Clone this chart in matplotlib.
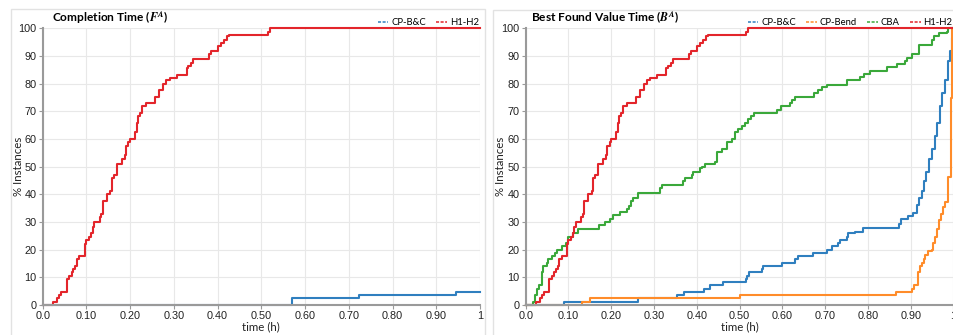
import matplotlib
matplotlib.use("Agg")
import matplotlib.pyplot as plt
from matplotlib.patches import Rectangle
from matplotlib.lines import Line2D

plt.rcParams['font.family'] = ['Liberation Sans', 'DejaVu Sans']
plt.rcParams['mathtext.fontset'] = 'stix'

UI_FONT = 'Lato'

# step breakpoints: time (h) and cumulative % of instances
h12_t = [0, 0.023, 0.033, 0.038, 0.042, 0.055, 0.061, 0.066, 0.070, 0.075, 0.079, 0.084,
         0.097, 0.100, 0.106, 0.110, 0.114, 0.118, 0.130, 0.133, 0.137, 0.146, 0.154, 0.158,
         0.163, 0.169, 0.181, 0.188, 0.190, 0.196, 0.200, 0.211, 0.215, 0.219, 0.222, 0.227,
         0.236, 0.257, 0.267, 0.276, 0.283, 0.291, 0.308, 0.329, 0.333, 0.340, 0.344, 0.381,
         0.386, 0.400, 0.407, 0.415, 0.421, 0.427, 0.516, 0.520, 1.0]
h12_y = [0, 1.2, 2.4, 3.5, 4.7, 9.4, 10.6, 11.8, 12.9, 14.1, 16.5, 17.6,
         21.9, 23.5, 24.7, 25.9, 28.2, 30.0, 31.8, 32.9, 37.6, 40.0, 41.2, 45.9,
         47.1, 51.0, 52.9, 54.1, 57.6, 58.8, 60.0, 62.4, 65.9, 68.2, 69.4, 71.8,
         72.9, 75.3, 77.6, 80.0, 81.2, 82.0, 83.0, 85.5, 86.5, 87.6, 88.8, 90.6,
         91.8, 93.5, 94.7, 95.9, 97.1, 97.6, 98.8, 100, 100]

# completion time of CP-B&C
cpbc_done_t = [0, 0.569, 0.724, 0.945, 1.0]
cpbc_done_y = [0, 2.4, 3.5, 4.7, 4.7]

# best found value time
cpbc_t = [0, 0.090, 0.262, 0.354, 0.370, 0.417, 0.431, 0.462, 0.514, 0.517, 0.521, 0.552,
          0.555, 0.598, 0.630, 0.637, 0.672, 0.704, 0.715, 0.731, 0.735, 0.750, 0.754, 0.770,
          0.789, 0.873, 0.877, 0.894, 0.906, 0.915, 0.920, 0.926, 0.930, 0.936, 0.943, 0.949,
          0.957, 0.962, 0.968, 0.972, 0.980, 0.988, 0.992, 0.996, 1.0]
cpbc_y = [0, 1.2, 2.4, 3.5, 4.7, 5.9, 7.1, 8.2, 9.4, 10.6, 11.8, 12.9,
          14.1, 15.3, 16.5, 17.6, 18.8, 20.0, 21.2, 22.4, 23.5, 24.7, 25.9, 26.5,
          27.8, 29.4, 31.0, 32.2, 33.1, 36.1, 38.8, 41.2, 44.7, 48.2, 52.9, 56.5,
          61.2, 65.9, 71.8, 76.5, 81.2, 88.2, 91.8, 96.5, 96.5]

bend_t = [0, 0.131, 0.150, 0.501, 0.866, 0.902, 0.908, 0.918, 0.922, 0.926, 0.930, 0.933,
          0.941, 0.949, 0.953, 0.957, 0.961, 0.967, 0.971, 0.976, 0.981, 0.986, 0.988,
          0.993, 0.997, 1.0]
bend_y = [0, 1.2, 2.4, 3.5, 4.7, 5.9, 7.1, 11.8, 14.1, 15.3, 16.5, 18.1,
          19.4, 20.0, 22.4, 24.7, 27.6, 30.6, 32.9, 35.3, 37.1, 41.2, 46.4,
          74.7, 100, 100]

cba_t = [0, 0.018, 0.022, 0.026, 0.030, 0.037, 0.041, 0.049, 0.053, 0.061, 0.068, 0.074,
         0.086, 0.094, 0.100, 0.111, 0.122, 0.171, 0.185, 0.197, 0.205, 0.220, 0.236, 0.242,
         0.245, 0.250, 0.263, 0.314, 0.318, 0.367, 0.372, 0.388, 0.392, 0.407, 0.411, 0.419,
         0.442, 0.447, 0.458, 0.470, 0.482, 0.489, 0.497, 0.505, 0.513, 0.520, 0.526, 0.534,
         0.587, 0.596, 0.618, 0.622, 0.630, 0.674, 0.684, 0.692, 0.704, 0.750, 0.781, 0.791,
         0.805, 0.844, 0.867, 0.887, 0.891, 0.902, 0.920, 0.949, 0.954, 0.967, 0.984, 0.988,
         1.0]
cba_y = [0, 1.2, 3.5, 5.9, 7.1, 11.8, 14.1, 15.3, 16.5, 17.6, 18.8, 20.0,
         21.2, 22.4, 24.7, 25.9, 27.6, 28.8, 30.0, 31.2, 32.4, 33.5, 34.7, 35.9,
         37.6, 38.8, 40.4, 42.4, 43.5, 44.7, 45.9, 47.1, 48.2, 49.4, 50.0, 51.0,
         51.8, 55.3, 56.5, 58.8, 60.0, 62.4, 63.5, 64.7, 65.9, 67.1, 68.2, 69.4,
         70.6, 71.8, 72.9, 74.1, 75.3, 76.5, 77.6, 78.8, 79.5, 81.2, 82.4, 83.5,
         84.7, 85.9, 87.1, 88.2, 89.4, 90.6, 94.1, 95.9, 97.1, 98.2, 98.8, 100,
         100]

x_ticks = [0, 0.1, 0.2, 0.3, 0.4, 0.5, 0.6, 0.7, 0.8, 0.9, 1.0]
x_labels = ['0.0', '0.10', '0.20', '0.30', '0.40', '0.50', '0.60', '0.70', '0.80', '0.90', '1']
y_ticks = list(range(0, 101, 10))

C_BLUE = '#2f7fbf'
C_ORANGE = '#ff8c2a'
C_GREEN = '#3aa83a'
C_RED = '#e3252b'

W, H = 954, 335
fig = plt.figure(figsize=(W / 100, H / 100), dpi=100)


def px_box(x0, x1, y_top, y_bot):
    return [x0 / W, 1 - y_bot / H, (x1 - x0) / W, (y_bot - y_top) / H]


# light panel frames
fig.patches.append(Rectangle((11.5 / W, -0.05), (485 - 11.5) / W, 1 - 8.5 / H + 0.05,
                             transform=fig.transFigure, fill=False, ec='#e2e2e2', lw=1))
fig.patches.append(Rectangle((493 / W, -0.05), 0.5, 1 - 9.5 / H + 0.05,
                             transform=fig.transFigure, fill=False, ec='#e2e2e2', lw=1))

ax1 = fig.add_axes(px_box(42.7, 480, 28.3, 305))
ax2 = fig.add_axes(px_box(525.7, 953.5, 28.3, 305))

ax1.step(cpbc_done_t, cpbc_done_y, where='post', color=C_BLUE, lw=1.5)
ax1.step(h12_t, h12_y, where='post', color=C_RED, lw=1.5)

ax2.step(cpbc_t, cpbc_y, where='post', color=C_BLUE, lw=1.5)
ax2.step(bend_t, bend_y, where='post', color=C_ORANGE, lw=1.5)
ax2.step(cba_t, cba_y, where='post', color=C_GREEN, lw=1.5)
ax2.step(h12_t, h12_y, where='post', color=C_RED, lw=1.5)

for ax, ylab_x in ((ax1, -0.043), (ax2, -0.046)):
    ax.set_xlim(0, 1)
    ax.set_ylim(0, 100)
    ax.set_xticks(x_ticks)
    ax.set_xticklabels(x_labels)
    ax.set_yticks(y_ticks)
    ax.grid(True, color='#e8e8e8', lw=0.8)
    ax.set_axisbelow(True)
    for s in ('top', 'right'):
        ax.spines[s].set_visible(False)
    ax.spines['left'].set_color('#9a9a9a')
    ax.spines['bottom'].set_color('#9a9a9a')
    ax.spines['left'].set_linewidth(1.5)
    ax.spines['bottom'].set_linewidth(1.5)
    ax.tick_params(labelsize=7.8, labelcolor='#222222', color='#9a9a9a',
                   length=3, width=0.8, pad=1.5)
    ax.set_xlabel('time (h)', fontsize=8.3, family=UI_FONT, color='#222222')
    ax.set_ylabel('% Instances', fontsize=8.3, family=UI_FONT, color='#222222')
    ax.xaxis.set_label_coords(0.5, -0.058)
    ax.yaxis.set_label_coords(ylab_x, 0.5)
    for line in ax.get_lines():
        line.set_clip_on(False)


def legend_handles(colors):
    return [Line2D([0], [0], color=c, lw=1.1, ls=(0, (2.0, 1.0))) for c in colors]


leg_kw = dict(loc='lower right', bbox_to_anchor=(1.0, 1.0), frameon=False,
              prop={'family': UI_FONT, 'size': 6.8}, handlelength=1.15, handletextpad=0.32,
              columnspacing=1.05, borderaxespad=0.0, borderpad=0.1)
ax1.legend(legend_handles([C_BLUE, C_RED]), ['CP-B&C', 'H1-H2'], ncol=2, **leg_kw)
ax2.legend(legend_handles([C_BLUE, C_ORANGE, C_GREEN, C_RED]),
           ['CP-B&C', 'CP-Bend', 'CBA', 'H1-H2'], ncol=4, **leg_kw)

fig.text(52 / W, 1 - 17.5 / H, r'Completion Time ($\mathbfit{F}^{\mathbfit{A}}$)',
         fontsize=8.6, fontweight='bold', family=UI_FONT, va='center', ha='left')
fig.text(531 / W, 1 - 17.5 / H, r'Best Found Value Time ($\mathbfit{B}^{\mathbfit{A}}$)',
         fontsize=8.6, fontweight='bold', family=UI_FONT, va='center', ha='left')

fig.savefig('out.png', dpi=100)
